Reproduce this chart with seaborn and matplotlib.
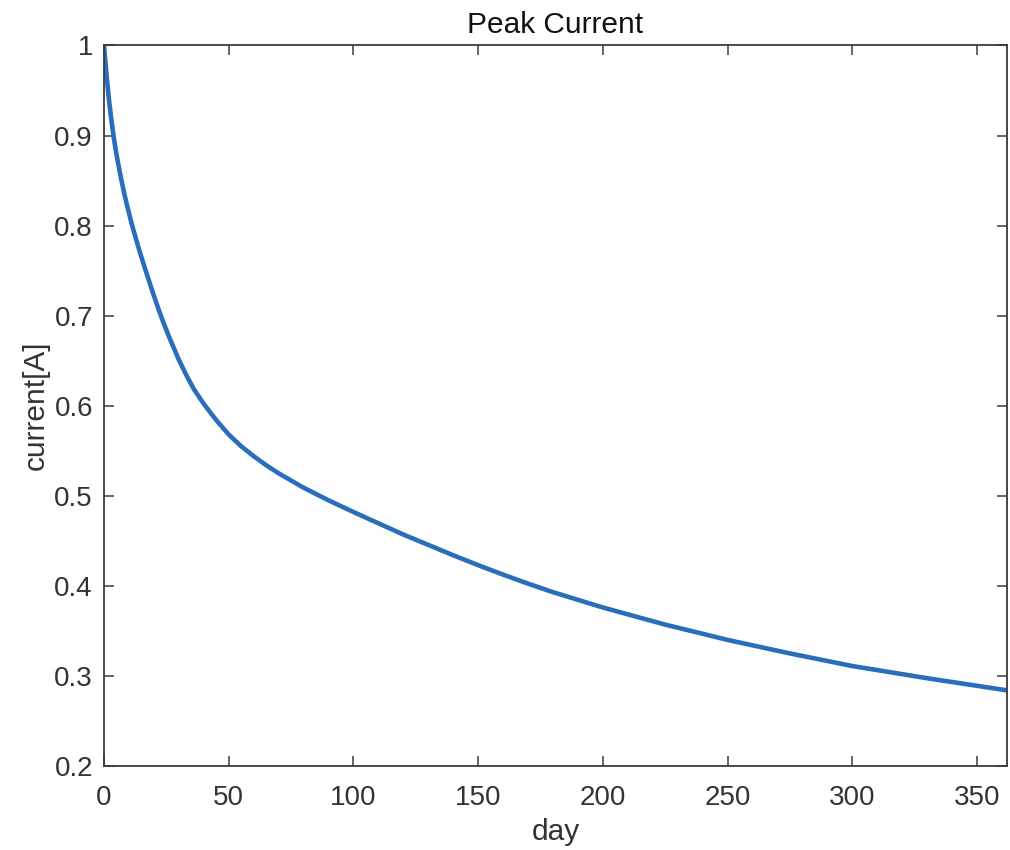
import matplotlib
matplotlib.use('Agg')
import matplotlib.pyplot as plt
import seaborn as sns
import pandas as pd
from matplotlib.ticker import FuncFormatter

# values
days = [0, 1, 2, 3, 4, 5, 6, 7, 8, 9, 10, 11, 12, 14, 16, 18, 20, 22, 24, 26,
        28, 30, 33, 36, 40, 45, 50, 55, 60, 65, 70, 80, 90, 100, 120, 140, 150,
        160, 170, 180, 200, 225, 250, 275, 300, 330, 362]
current = [1.000, 0.967, 0.939, 0.916, 0.896, 0.879, 0.864, 0.850, 0.837, 0.825,
           0.814, 0.803, 0.793, 0.774, 0.756, 0.739, 0.722, 0.706, 0.691, 0.677,
           0.664, 0.651, 0.634, 0.6185, 0.602, 0.584, 0.568, 0.555, 0.544, 0.534,
           0.525, 0.509, 0.495, 0.482, 0.457, 0.434, 0.423, 0.4125, 0.4025, 0.393,
           0.376, 0.357, 0.340, 0.325, 0.311, 0.2975, 0.284]
x_ticks = [0, 50, 100, 150, 200, 250, 300, 350]
y_ticks = [0.2, 0.3, 0.4, 0.5, 0.6, 0.7, 0.8, 0.9, 1.0]

df = pd.DataFrame({'day': days, 'current': current})

sns.set_style('ticks')
plt.rcParams['font.family'] = ['Liberation Sans', 'DejaVu Sans']

axis_color = '#3a3a3a'
fig = plt.figure(figsize=(10.1, 8.5), dpi=100)
ax = fig.add_axes([0.103, 0.0988, 0.894, 0.8477])

sns.lineplot(data=df, x='day', y='current', ax=ax, color='#2a6ebb', linewidth=3.3)

ax.set_xlim(0, 362)
ax.set_ylim(0.2, 1.0)
ax.set_xticks(x_ticks)
ax.set_yticks(y_ticks)
ax.yaxis.set_major_formatter(FuncFormatter(lambda v, p: f'{v:g}'))

for side in ['top', 'right', 'bottom', 'left']:
    ax.spines[side].set_visible(True)
    ax.spines[side].set_color(axis_color)
    ax.spines[side].set_linewidth(1.3)
ax.tick_params(direction='in', length=7, width=1.1, color=axis_color,
               labelsize=20, labelcolor='#333333', top=True, right=True)
ax.tick_params(axis='x', pad=14)
ax.tick_params(axis='y', pad=8)

ax.set_title('Peak Current', fontsize=21.5, color='#111111', pad=9)
ax.set_xlabel('day', fontsize=21.5, color='#333333', labelpad=5)
ax.set_ylabel('current[A]', fontsize=21.5, color='#333333', labelpad=3)

fig.savefig('out.png', dpi=100)
